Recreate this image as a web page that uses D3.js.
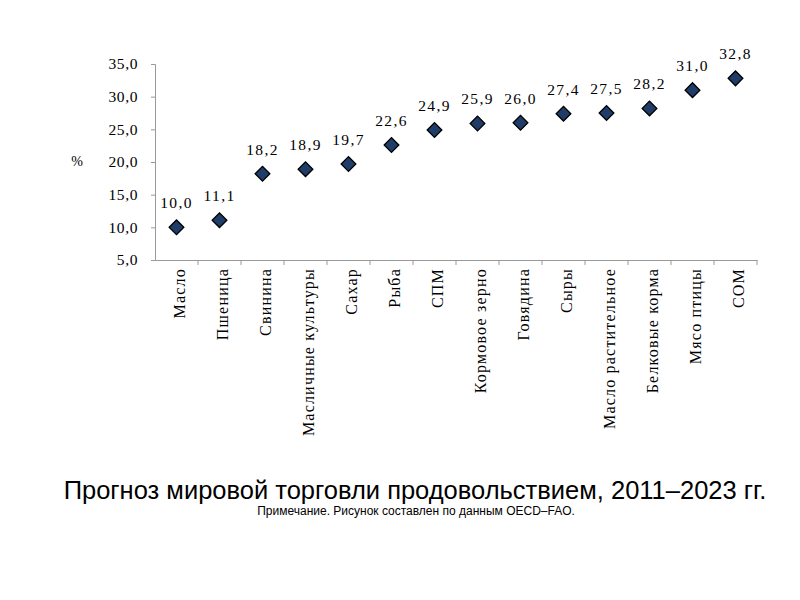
<!DOCTYPE html>
<html>
<head>
<meta charset="utf-8">
<script src="https://cdn.jsdelivr.net/npm/d3@7"></script>
<style>
  body { margin: 0; background: #fff; }
  svg { display: block; }
</style>
</head>
<body>
<script>
const width = 800;
const height = 600;

// Data
const categories = ["Масло", "Пшеница", "Свинина", "Масличные культуры", "Сахар", "Рыба", "СПМ",
  "Кормовое зерно", "Говядина", "Сыры", "Масло растительное", "Белковые корма", "Мясо птицы", "СОМ"];
const values = [10.0, 11.1, 18.2, 18.9, 19.7, 22.6, 24.9, 25.9, 26.0, 27.4, 27.5, 28.2, 31.0, 32.8];
const yTicks = [5, 10, 15, 20, 25, 30, 35];

const svg = d3.select("body")
  .append("svg")
  .attr("width", width)
  .attr("height", height);

// Scales
const x = d3.scaleBand()
  .domain(categories)
  .range([155, 757]);

const y = d3.scaleLinear()
  .domain([5, 35])
  .range([260, 64]);

const fmt = v => d3.format(".1f")(v).replace(".", ",");

// Y axis
const yAxis = svg.append("g")
  .attr("transform", "translate(155,0)")
  .call(d3.axisLeft(y).tickValues(yTicks).tickFormat(fmt).tickSize(4).tickPadding(13));
yAxis.select(".domain").attr("stroke", "#999");
yAxis.selectAll(".tick line").attr("stroke", "#999");
yAxis.selectAll(".tick text")
  .attr("font-family", "Liberation Serif, serif")
  .attr("font-size", 15.5)
  .attr("letter-spacing", 0.6)
  .attr("fill", "#000");

// X axis
const xAxis = svg.append("g")
  .attr("transform", "translate(0,260)")
  .call(d3.axisBottom(x).tickSize(0).tickSizeOuter(0));
xAxis.select(".domain").attr("stroke", "#999");
xAxis.selectAll(".tick text")
  .attr("font-family", "Liberation Serif, serif")
  .attr("font-size", 16)
  .attr("letter-spacing", 1.2)
  .attr("fill", "#000")
  .attr("text-anchor", "end")
  .attr("transform", "rotate(-90)")
  .attr("x", -8)
  .attr("y", 2)
  .attr("dy", "0.4em");

// tick marks between categories
svg.append("g")
  .selectAll("line")
  .data(categories.slice(1).concat(["_end"]))
  .enter()
  .append("line")
  .attr("x1", (d, i) => i < categories.length - 1 ? x(d) : x.range()[1])
  .attr("x2", (d, i) => i < categories.length - 1 ? x(d) : x.range()[1])
  .attr("y1", 260)
  .attr("y2", 265)
  .attr("stroke", "#999");

// % label
svg.append("text")
  .attr("x", 77)
  .attr("y", 166)
  .attr("text-anchor", "middle")
  .attr("font-family", "Liberation Serif, serif")
  .attr("font-size", 14)
  .text("%");

// Points
const cx = d => x(d) + x.bandwidth() / 2;
const pts = svg.append("g");
pts.selectAll("path")
  .data(categories)
  .enter()
  .append("path")
  .attr("d", d3.symbol().type(d3.symbolSquare).size(108))
  .attr("transform", (d, i) => `translate(${cx(d)},${y(values[i])}) rotate(45)`)
  .attr("fill", "#1f3d68")
  .attr("stroke", "#000")
  .attr("stroke-width", 1.3);

// Data labels
pts.selectAll("text")
  .data(categories)
  .enter()
  .append("text")
  .attr("x", d => cx(d))
  .attr("y", (d, i) => y(values[i]) - 19)
  .attr("text-anchor", "middle")
  .attr("font-family", "Liberation Serif, serif")
  .attr("font-size", 15.5)
  .attr("letter-spacing", 1.4)
  .attr("fill", "#000")
  .text((d, i) => fmt(values[i]));

// Title and note
svg.append("text")
  .attr("x", 415)
  .attr("y", 499)
  .attr("text-anchor", "middle")
  .attr("font-family", "Liberation Sans, Arial, sans-serif")
  .attr("font-size", 25.5)
  .text("Прогноз мировой торговли продовольствием, 2011–2023 гг.");

svg.append("text")
  .attr("x", 416)
  .attr("y", 515)
  .attr("text-anchor", "middle")
  .attr("font-family", "Liberation Sans Narrow, Liberation Sans, sans-serif")
  .attr("font-size", 12)
  .text("Примечание. Рисунок составлен по данным OECD–FAO.");
</script>
</body>
</html>
